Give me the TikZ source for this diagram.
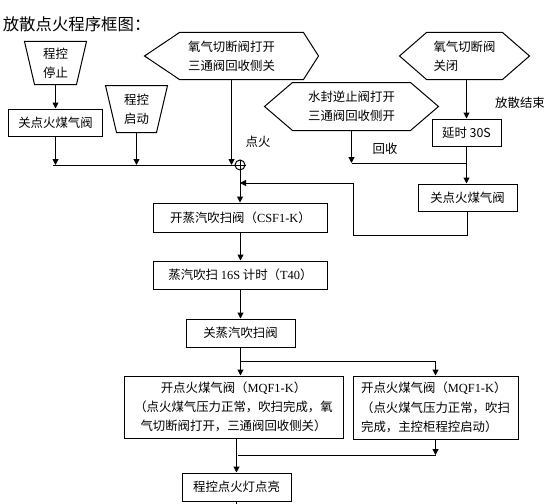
\documentclass[tikz,border=0pt]{standalone}
\usepackage{fontspec}
\setmainfont{Noto Sans CJK SC}
\newfontfamily\lat{Liberation Serif}
\usetikzlibrary{arrows.meta}
\usetikzlibrary{calc}

\begin{document}
\begin{tikzpicture}[x=0.75pt, y=-0.75pt, line width=0.75pt,
    every node/.style={font=\fontsize{9.3}{14.5}\selectfont, inner sep=1pt},
    sz/.style 2 args={minimum width=#1*0.75pt, minimum height=#2*0.75pt},
    box/.style={draw, rectangle, align=center},
    txt/.style={rectangle, align=center},
    arr/.style={-{Triangle[width=4.5pt,length=4.5pt]}}]

    \useasboundingbox (0,0) rectangle (556,503);

    \node (title) [anchor=west, font=\fontsize{12.3}{15}\selectfont] at (1,24) {放散点火程序框图：};

    % left inputs
    \node (stop) [txt, sz={61}{42}] at (55.5,63) {程控\\停止};
    \draw (stop.north west) -- (stop.north east) -- ($(stop.south east)+(-10,0)$) -- ($(stop.south west)+(10,0)$) -- cycle;
    \node (offl) [box, sz={94}{27}] at (55.5,122.5) {关点火煤气阀};
    \node (start) [txt, sz={61}{46}] at (136.5,109) {程控\\启动};
    \draw (start.north west) -- (start.north east) -- ($(start.south east)+(-11,0)$) -- ($(start.south west)+(11,0)$) -- cycle;

    \node (oxon) [txt, sz={173}{46}] at (231.5,56) {氧气切断阀打开\\三通阀回收侧关};
    \draw (oxon.west) -- ($(oxon.north west)+(35,0)$) -- ($(oxon.north east)+(-15,0)$) -- (oxon.east) -- ($(oxon.south east)+(-15,0)$) -- ($(oxon.south west)+(35,0)$) -- cycle;

    \node (sum) [draw, circle, minimum size=7.5pt, inner sep=0pt] at (240,165) {};
    \draw (sum.north) -- (sum.south) (sum.west) -- (sum.east);
    \coordinate (busL) at (53,165);
    \node (fire) at (258,142) {点火};

    % right inputs
    \node (oxoff) [txt, sz={129}{46}, align=left] at (464.5,56) {氧气切断阀\\关闭};
    \draw (oxoff.west) -- ($(oxoff.north west)+(27,0)$) -- ($(oxoff.north east)+(-27,0)$) -- (oxoff.east) -- ($(oxoff.south east)+(-27,0)$) -- ($(oxoff.south west)+(27,0)$) -- cycle;
    \node (end) at (520,103) {放散结束};
    \node (delay) [box, sz={69}{27}] at (466.5,132.5) {延时 30S};

    \node (seal) [txt, sz={173}{47}] at (351.5,106.5) {水封逆止阀打开\\三通阀回收侧开};
    \draw (seal.west) -- ($(seal.north west)+(28,0)$) -- ($(seal.north east)+(-28,0)$) -- (seal.east) -- ($(seal.south east)+(-28,0)$) -- ($(seal.south west)+(28,0)$) -- cycle;
    \node (back) at (385,149) {回收};
    \coordinate (rec) at (467,163);
    \node (offr) [box, sz={99}{27}] at (467.5,197.5) {关点火煤气阀};

    % main chain
    \node (steam) [box, sz={174}{29}] at (240.5,217.5) {开蒸汽吹扫阀（{\lat CSF1-K}）};
    \node (timer) [box, sz={174}{28}] at (240.5,275) {蒸汽吹扫 {\lat 16S} 计时（{\lat T40}）};
    \node (calm) [box, sz={109}{28}] at (240.5,333) {关蒸汽吹扫阀};
    \coordinate (split) at (240,361);

    \node (fire1) [box, sz={219}{62}] at (233.5,407) {开点火煤气阀（{\lat MQF1-K}）\\（点火煤气压力正常，吹扫完成，氧\\气切断阀打开，三通阀回收侧关）};
    \node (fire2) [box, sz={165}{63}, align=left] at (435.5,407.5) {开点火煤气阀（{\lat MQF1-K}）\\（点火煤气压力正常，吹扫\\完成，主控柜程控启动）};
    \coordinate (merge) at (238,455);
    \node (lamp) [box, sz={109}{28}] at (236.5,487) {程控点火灯点亮};

    \draw[arr] (stop) -- (offl);
    \draw (busL) -- (sum.west);
    \draw[arr] (offl.south) -- (offl.south |- sum);
    \draw[arr] (start.south) -- (start.south |- sum);
    \draw[arr] (oxon.south) -- (oxon.south |- sum);
    \draw[arr] (sum.south) -- (sum.south |- steam.north);

    \draw[arr] (delay.north |- oxoff.south) -- (delay.north);
    \draw[arr] (delay.south) -- (delay.south |- offr.north);
    \draw[arr] (seal.south) -- (seal.south |- rec);
    \draw (seal.south |- rec) -- (rec);
    \draw[arr] (offr.south) |- (353,235) |- (sum.south |- 0,183);

    \draw[arr] (steam.south) -- (timer.north);
    \draw[arr] (timer.south) -- (calm.north);
    \draw[arr] (calm.south) -- (calm.south |- fire1.north);
    \draw[arr] (split) -| (fire2.north);
    \draw[arr] (fire2.south) -- (fire2.south |- merge);
    \draw (merge) -- (fire2.south |- merge);
    \draw[arr] (lamp.north |- fire1.south) -- (lamp.north);
    \draw (lamp.south) -- ++(0,3);

\end{tikzpicture}
\end{document}
